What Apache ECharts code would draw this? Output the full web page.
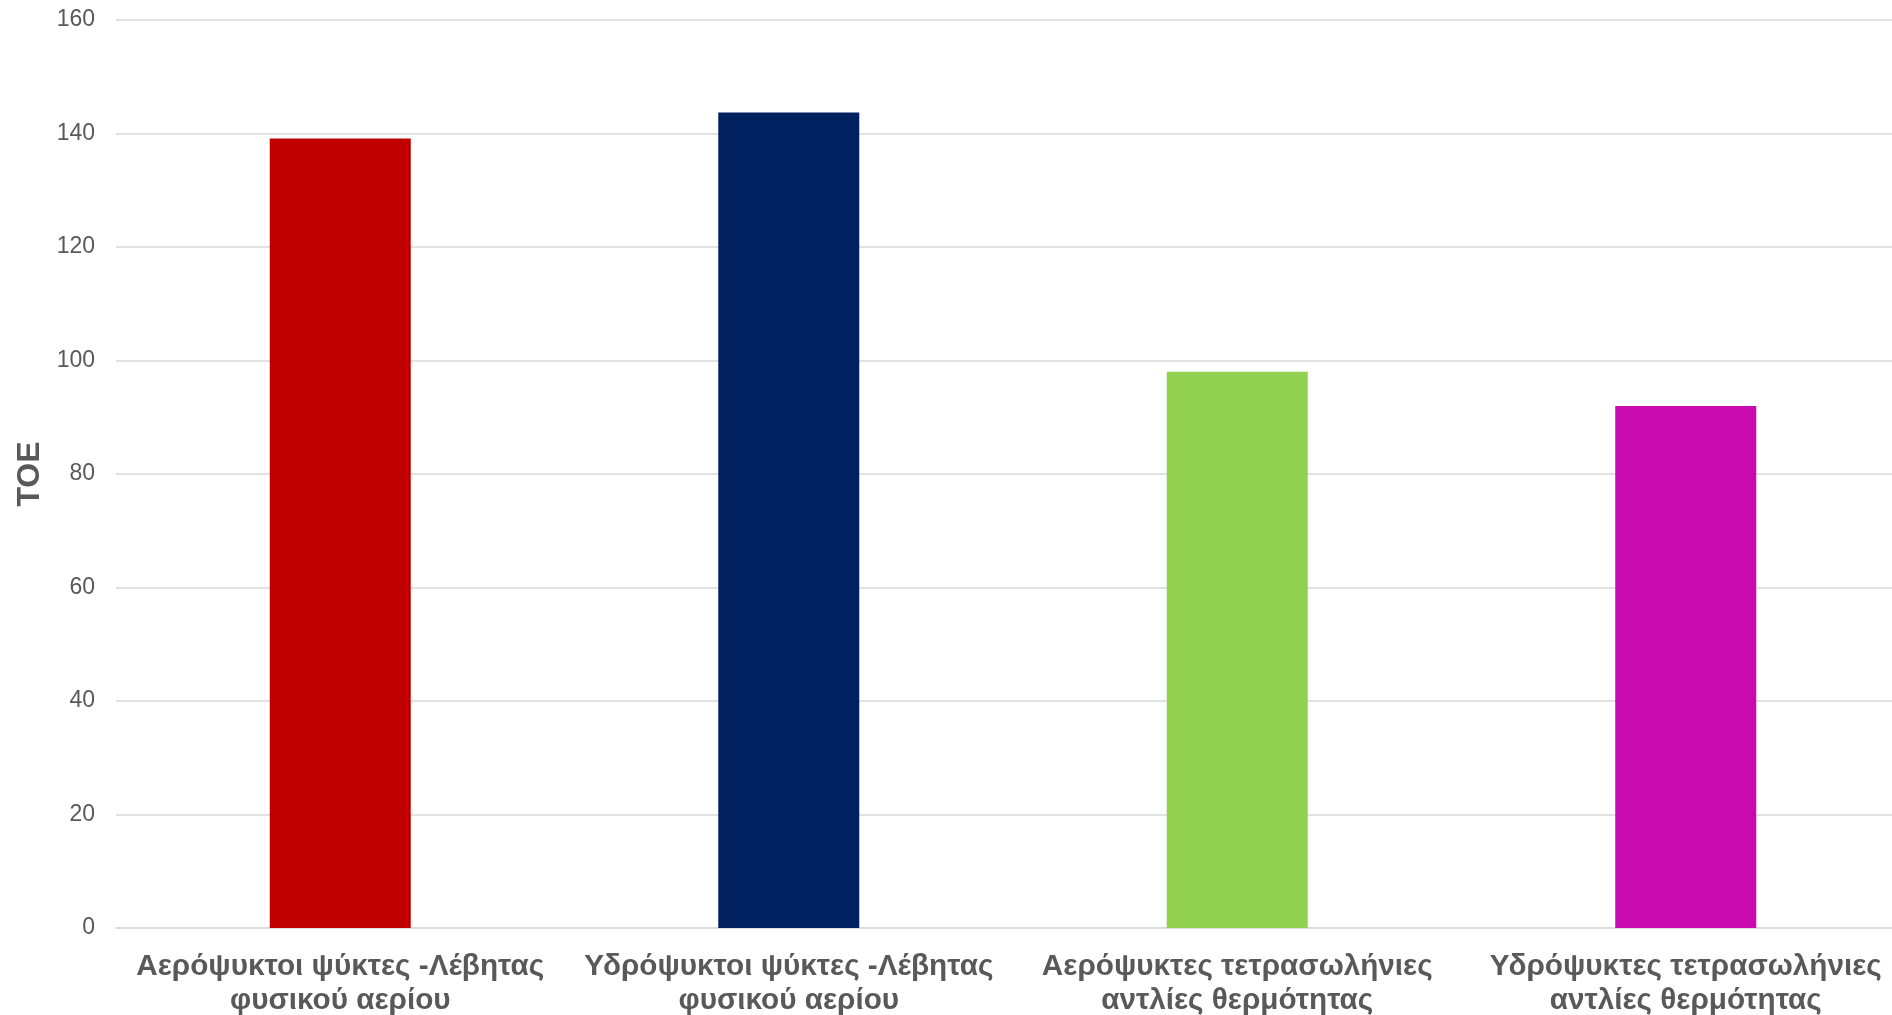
<!DOCTYPE html>
<html>
<head>
<meta charset="utf-8">
<script src="https://cdn.jsdelivr.net/npm/echarts@6/dist/echarts.min.js"></script>
<style>
  html, body { margin: 0; padding: 0; background: #ffffff; overflow: hidden; }
  #chart { width: 1892px; height: 1015px; }
</style>
</head>
<body>
<div id="chart"></div>
<script>
// Annual energy consumption per system (TOE)
const categories = [
  'Αερόψυκτοι ψύκτες -Λέβητας\nφυσικού αερίου',
  'Υδρόψυκτοι ψύκτες -Λέβητας\nφυσικού αερίου',
  'Αερόψυκτες τετρασωλήνιες\nαντλίες θερμότητας',
  'Υδρόψυκτες τετρασωλήνιες\nαντλίες θερμότητας'
];
const values = [139.1, 143.7, 98.0, 92.0];
const barColors = ['#C00000', '#002060', '#92D050', '#C90AAF'];
const yTicks = { min: 0, max: 160, interval: 20 };

const chart = echarts.init(document.getElementById('chart'));
chart.setOption({
  animation: false,
  backgroundColor: '#ffffff',
  // plot area runs slightly past the right edge of the canvas
  grid: {
    left: 116, width: 1794, top: 20, bottom: 87,
    containLabel: false,
    outerBoundsMode: 'none'
  },
  xAxis: {
    type: 'category',
    data: categories,
    axisLine: { show: true, lineStyle: { color: '#d9d9d9', width: 1.5 } },
    axisTick: { show: false },
    axisLabel: {
      interval: 0,
      margin: 22,
      color: '#595959',
      fontFamily: 'Liberation Sans, Arial, sans-serif',
      fontWeight: 'bold',
      fontSize: 29.7,
      lineHeight: 34
    }
  },
  yAxis: {
    type: 'value',
    min: yTicks.min,
    max: yTicks.max,
    interval: yTicks.interval,
    name: 'TOE',
    nameLocation: 'middle',
    nameGap: 69,
    nameRotate: 90,
    nameTextStyle: {
      color: '#595959',
      fontFamily: 'Liberation Sans, Arial, sans-serif',
      fontWeight: 'bold',
      fontSize: 32
    },
    axisLine: { show: false },
    axisTick: { show: false },
    axisLabel: {
      margin: 21,
      color: '#595959',
      fontFamily: 'Liberation Sans, Arial, sans-serif',
      fontSize: 23
    },
    splitLine: { lineStyle: { color: '#d9d9d9', width: 1.5 } }
  },
  series: [{
    type: 'bar',
    data: values.map((v, i) => ({ value: v, itemStyle: { color: barColors[i] } })),
    barWidth: 141
  }]
});
</script>
</body>
</html>
